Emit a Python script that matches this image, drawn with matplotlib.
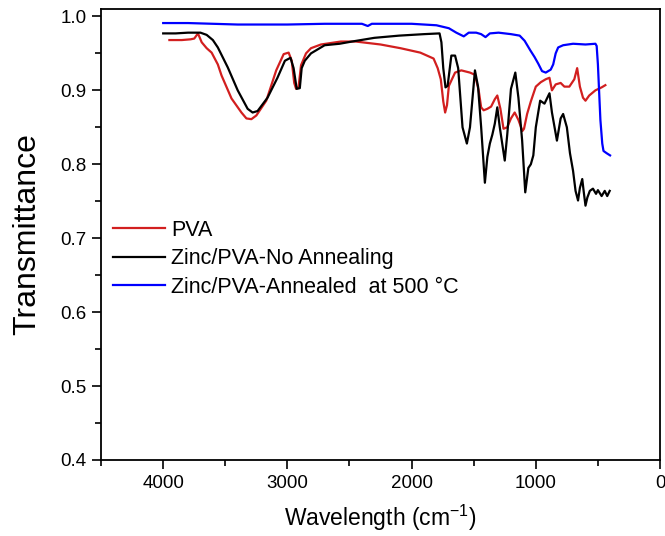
import matplotlib
matplotlib.use("Agg")
import matplotlib.pyplot as plt
from matplotlib.ticker import MultipleLocator

plt.rcParams['font.family'] = ['Liberation Sans', 'DejaVu Sans']
plt.rcParams['mathtext.default'] = 'regular'

# ---- data ----
pva_w = [3950, 3900, 3850, 3780, 3750, 3720, 3690, 3650, 3610, 3560, 3530, 3450, 3370, 3330,
         3290, 3250, 3170, 3090, 3030, 2990, 2965, 2945, 2930, 2910, 2890, 2850, 2810, 2730,
         2570, 2450, 2250, 2090, 1930, 1823, 1790, 1765, 1745, 1730, 1715, 1700, 1650, 1600,
         1530, 1490, 1460, 1440, 1420, 1390, 1360, 1330, 1310, 1285, 1260, 1230, 1200, 1170,
         1140, 1108, 1095, 1070, 1040, 1000, 960, 920, 890, 870, 840, 800, 770, 730, 690, 667,
         645, 620, 600, 570, 520, 470, 440]
pva_t = [0.968, 0.968, 0.968, 0.969, 0.970, 0.977, 0.965, 0.957, 0.951, 0.935, 0.920, 0.889,
         0.870, 0.862, 0.861, 0.866, 0.886, 0.927, 0.949, 0.951, 0.940, 0.910, 0.902, 0.905,
         0.934, 0.950, 0.957, 0.962, 0.966, 0.966, 0.962, 0.957, 0.951, 0.943, 0.930, 0.915,
         0.885, 0.870, 0.880, 0.906, 0.924, 0.927, 0.924, 0.921, 0.900, 0.877, 0.873, 0.875,
         0.878, 0.888, 0.893, 0.875, 0.848, 0.850, 0.862, 0.870, 0.860, 0.845, 0.848, 0.868,
         0.885, 0.905, 0.911, 0.915, 0.917, 0.900, 0.908, 0.910, 0.905, 0.905, 0.915, 0.930,
         0.905, 0.890, 0.886, 0.893, 0.900, 0.904, 0.907]

noann_w = [4000, 3900, 3800, 3700, 3650, 3600, 3560, 3480, 3400, 3320, 3280, 3240, 3160, 3080,
           3020, 2975, 2950, 2925, 2900, 2885, 2860, 2810, 2700, 2580, 2480, 2300, 2100, 1900,
           1775, 1760, 1745, 1727, 1710, 1680, 1650, 1625, 1590, 1555, 1530, 1490, 1465, 1440,
           1410, 1390, 1370, 1350, 1330, 1310, 1290, 1250, 1230, 1200, 1165, 1140, 1110, 1085,
           1060, 1040, 1020, 1000, 965, 930, 890, 870, 830, 800, 780, 750, 725, 700, 680, 660,
           645, 626, 615, 600, 585, 565, 540, 515, 500, 470, 445, 425, 405]
noann_t = [0.977, 0.977, 0.978, 0.978, 0.975, 0.968, 0.958, 0.931, 0.900, 0.875, 0.870, 0.872,
           0.890, 0.917, 0.940, 0.944, 0.930, 0.902, 0.903, 0.930, 0.940, 0.950, 0.961, 0.963,
           0.966, 0.971, 0.974, 0.976, 0.977, 0.965, 0.930, 0.904, 0.906, 0.947, 0.947, 0.930,
           0.850, 0.828, 0.850, 0.927, 0.905, 0.850, 0.775, 0.810, 0.828, 0.840, 0.855, 0.877,
           0.850, 0.805, 0.840, 0.902, 0.924, 0.890, 0.832, 0.762, 0.795, 0.800, 0.812, 0.850,
           0.886, 0.882, 0.896, 0.870, 0.832, 0.862, 0.868, 0.850, 0.815, 0.791, 0.764, 0.751,
           0.768, 0.780, 0.764, 0.744, 0.755, 0.764, 0.767, 0.760, 0.765, 0.757, 0.764, 0.757,
           0.764]

ann_w = [4000, 3800, 3600, 3400, 3000, 2700, 2400, 2353, 2320, 2000, 1800, 1700, 1640, 1580,
         1540, 1480, 1440, 1405, 1370, 1300, 1200, 1130, 1090, 1044, 1010, 980, 950, 920, 880,
         860, 840, 820, 780, 700, 600, 520, 510, 500, 480, 465, 455, 430, 402]
ann_t = [0.991, 0.991, 0.990, 0.989, 0.989, 0.990, 0.990, 0.987, 0.990, 0.990, 0.988, 0.984,
         0.978, 0.973, 0.978, 0.978, 0.976, 0.972, 0.977, 0.978, 0.976, 0.974, 0.967, 0.954,
         0.945, 0.936, 0.926, 0.924, 0.928, 0.935, 0.950, 0.958, 0.961, 0.963, 0.962, 0.963,
         0.960, 0.935, 0.860, 0.828, 0.818, 0.815, 0.812]

labels = ['PVA', 'Zinc/PVA-No Annealing', 'Zinc/PVA-Annealed  at 500 \u00b0C']
colors = ['#d21f1f', '#000000', '#0000ff']

fig = plt.figure(figsize=(6.65, 5.36), dpi=100)
ax = fig.add_axes([0.152, 0.1418, 0.8405, 0.8414])

ax.plot(pva_w, pva_t, color=colors[0], lw=1.6, label=labels[0])
ax.plot(noann_w, noann_t, color=colors[1], lw=1.6, label=labels[1])
ax.plot(ann_w, ann_t, color=colors[2], lw=1.6, label=labels[2])

ax.set_xlim(4500, 0)
ax.set_ylim(0.4, 1.01)
ax.xaxis.set_major_locator(MultipleLocator(1000))
ax.xaxis.set_minor_locator(MultipleLocator(500))
ax.yaxis.set_major_locator(MultipleLocator(0.1))
ax.yaxis.set_minor_locator(MultipleLocator(0.05))
ax.yaxis.set_major_formatter(matplotlib.ticker.FormatStrFormatter('%.1f'))
ax.tick_params(which='major', direction='out', length=6.5, width=1.2, labelsize=13.5,
               top=False, right=False, pad=4)
ax.tick_params(which='minor', direction='out', length=4, width=1.2, top=False, right=False)
for s in ax.spines.values():
    s.set_linewidth(1.3)

ax.set_xlabel('Wavelength (cm$^{-1}$)', fontsize=16.5, labelpad=8)
ax.set_ylabel('Transmittance', fontsize=23, labelpad=13)

ax.legend(loc='center left', bbox_to_anchor=(0.0215, 0.446), frameon=False,
          fontsize=15.5, handlelength=2.4, handletextpad=0.3, labelspacing=0.35,
          borderpad=0, borderaxespad=0)

fig.savefig('out.png', dpi=100)
